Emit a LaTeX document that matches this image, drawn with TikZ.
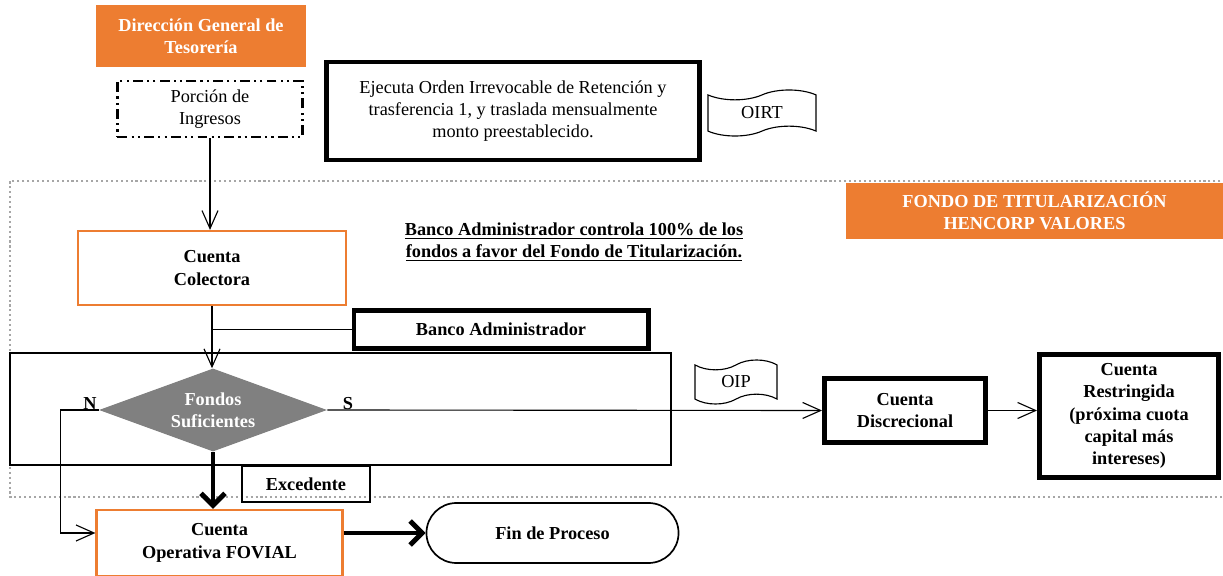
\documentclass[tikz,border=0pt]{standalone}
\usepackage{fontspec}
\setmainfont{Liberation Serif}
\usepackage{tikz}
\usetikzlibrary{arrows.meta}
\usetikzlibrary{shapes.geometric}
\usetikzlibrary{shapes.symbols}

\definecolor{naranja}{HTML}{ED7D31}
\definecolor{grisrombo}{HTML}{808080}
\definecolor{grispunto}{HTML}{A6A6A6}

\begin{document}
\begin{tikzpicture}[x=0.025cm, y=-0.025cm,
    every node/.style={font=\fontsize{13}{15.6}\selectfont, align=center, inner sep=2pt},
    negrita/.style={font=\fontsize{13}{15.8}\selectfont\bfseries},
    cajanaranja/.style={fill=naranja, text=white, negrita},
    cajagruesa/.style={draw, line width=3.5pt, negrita},
    cinta/.style={tape, draw, line width=0.8pt, tape bend height=7pt},
    flecha/.style={line width=0.8pt, -{Straight Barb[length=4.5mm,width=4mm]}},
    flechagruesa/.style={line width=3.5pt, -{Straight Barb[length=3mm,width=6mm]}}]
    \useasboundingbox (0,0) rectangle (1223,576);

    % recuadro del fondo
    \draw[grispunto, line width=1.5pt, dotted] (1240,181) -- (10,181) -- (10,497) -- (1240,497);

    \node[cajanaranja, minimum width=5.25cm, minimum height=1.55cm] (tesoreria) at (201,36) {Dirección General de\\Tesorería};
    \node[draw, line width=1.5pt, dash pattern=on 7pt off 3pt on 1.5pt off 3pt on 1.5pt off 3pt, minimum width=4.625cm, minimum height=1.4cm] (porcion) at (210,109) {Porción de\\Ingresos};
    \node[draw, line width=3.5pt, minimum width=9.3cm, minimum height=2.45cm] (ejecuta) at (513,111) {Ejecuta Orden Irrevocable de Retención y\\trasferencia 1, y traslada mensualmente\\monto preestablecido.};
    \node[cinta, minimum width=2.7cm, minimum height=1.15cm] (oirt) at (762,113) {OIRT};

    \node[cajanaranja, minimum width=9.425cm, minimum height=1.4cm] (fondo) at (1034.5,211) {FONDO DE TITULARIZACIÓN\\HENCORP VALORES};
    \node[negrita] (nota) at (574,242) {\underline{Banco Administrador controla 100\% de los}\\\underline{fondos a favor del Fondo de Titularización.}};

    \node[draw=naranja, line width=1.5pt, negrita, minimum width=6.7cm, minimum height=1.85cm] (colectora) at (212,268) {Cuenta\\Colectora};
    \node[cajagruesa, minimum width=7.35cm, minimum height=0.95cm] (bancoadm) at (501,329.5) {Banco Administrador};

    \node[draw, line width=1.5pt, minimum width=16.5cm, minimum height=2.8cm] (marco) at (340.5,409) {};
    \node[diamond, aspect=2.75, fill=grisrombo, text=white, negrita, inner sep=0pt, minimum width=5.7cm, minimum height=2.075cm] (fondos) at (213,410) {Fondos\\Suficientes};
    \node[negrita] (etiquetaN) at (90,404) {N};
    \node[negrita] (etiquetaS) at (348,404) {S};

    \node[cinta, minimum width=2.05cm, minimum height=1.1cm] (oip) at (736,382) {OIP};
    \node[cajagruesa, minimum width=4.025cm, minimum height=1.6cm] (discrecional) at (905,410.5) {Cuenta\\Discrecional};
    \node[cajagruesa, minimum width=4.475cm, minimum height=3.075cm] (restringida) at (1129,416) {Cuenta\\Restringida\\(próxima cuota\\capital más\\intereses)};

    \node[draw, line width=1pt, negrita, minimum width=3.2cm, minimum height=0.9cm] (excedente) at (306,484) {Excedente};
    \node[draw=naranja, line width=1.5pt, negrita, minimum width=6.15cm, minimum height=1.65cm] (operativa) at (219.5,543) {Cuenta\\Operativa FOVIAL};
    \node[draw, line width=1.2pt, rounded corners=0.75cm, negrita, minimum width=6.3cm, minimum height=1.5cm] (fin) at (552.5,533) {Fin de Proceso};

    % conexiones
    \draw[flecha] (porcion.south) -- (porcion.south |- colectora.north);
    \draw[flecha] (colectora.south) -- (colectora.south |- fondos.north);
    \draw[line width=0.8pt] (bancoadm.west) -- (bancoadm.west -| colectora.south);
    \draw[flecha] (fondos.east) -- (discrecional.west);
    \draw[flecha] (discrecional.east) -- (discrecional.east -| restringida.west);
    \draw[flecha] (fondos.west) -- ++(-38,0) |- (operativa.west |- fin.west);
    \draw[flechagruesa] (fondos.south) -- (fondos.south |- operativa.north);
    \draw[flechagruesa] (operativa.east |- fin.west) -- (fin.west);
\end{tikzpicture}
\end{document}
